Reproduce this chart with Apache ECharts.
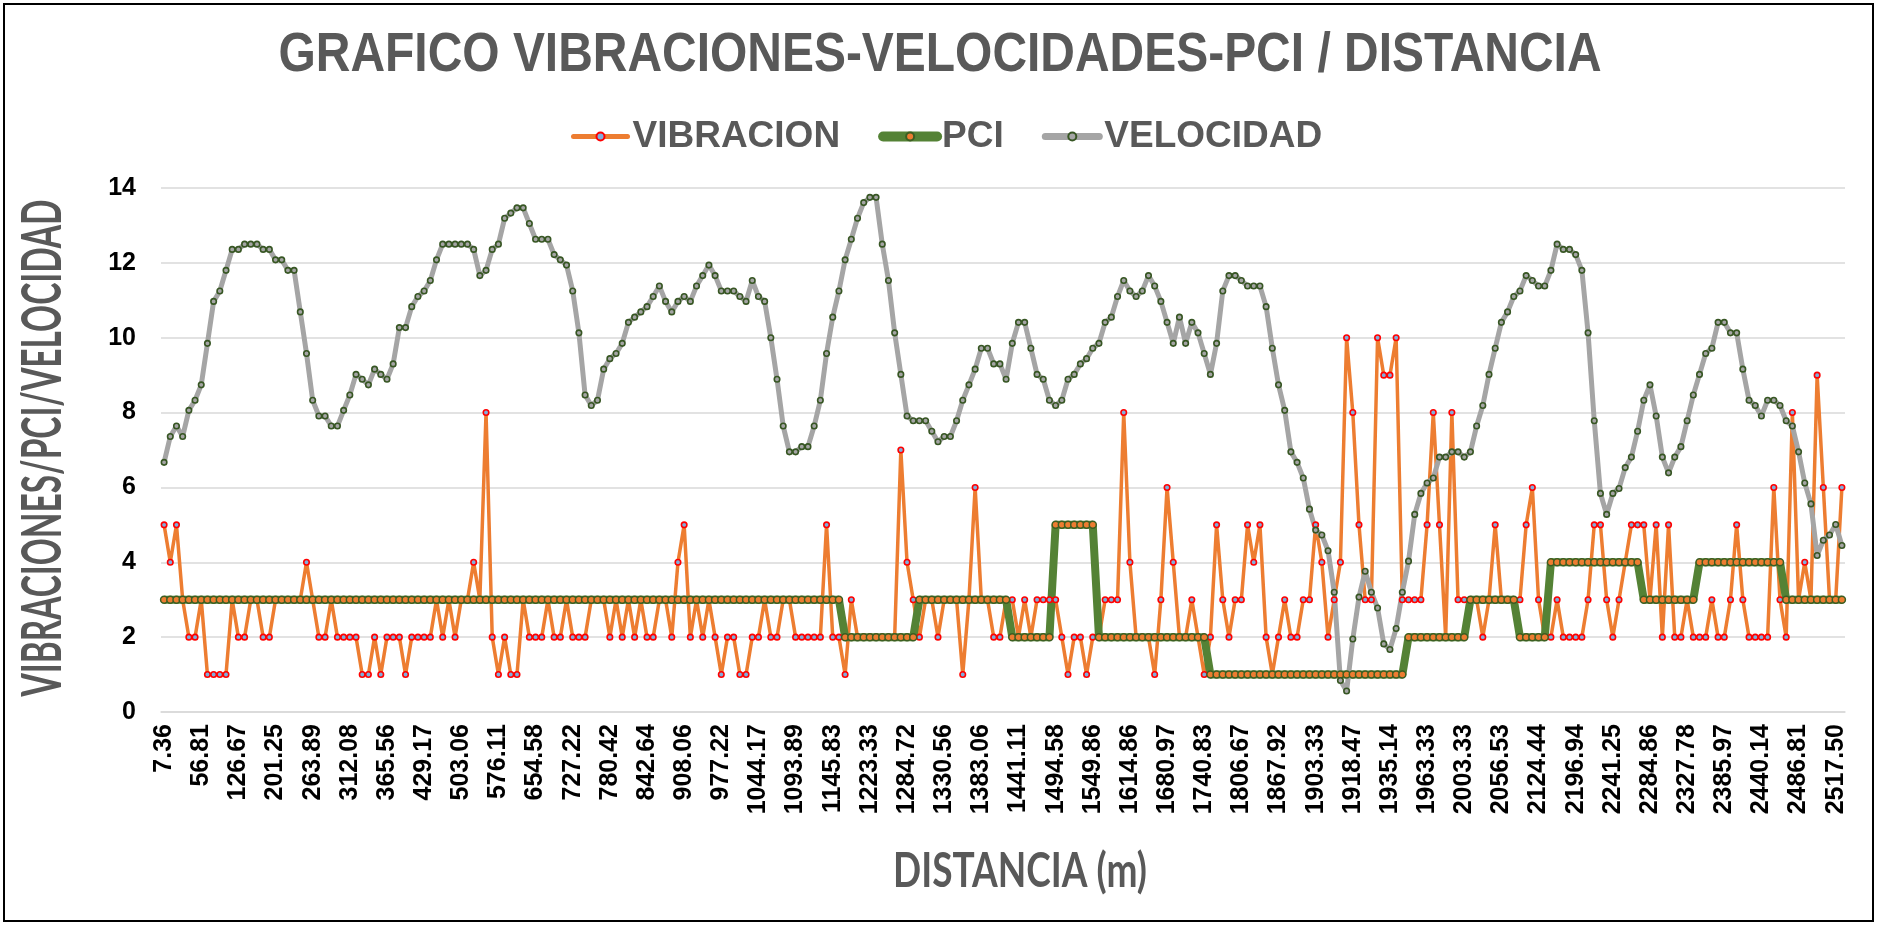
<!DOCTYPE html>
<html>
<head>
<meta charset="utf-8">
<script src="https://cdn.jsdelivr.net/npm/echarts@6/dist/echarts.min.js"></script>
<style>
  html, body { margin: 0; padding: 0; background: #ffffff; }
  #chart { width: 1878px; height: 925px; }
</style>
</head>
<body>
<div id="chart"></div>
<script>
// Distance tick labels (one every sixth reading along the road)
const tickLabels = ['7.36','56.81','126.67','201.25','263.89','312.08','365.56','429.17','503.06','576.11',
  '654.58','727.22','780.42','842.64','908.06','977.22','1044.17','1093.89','1145.83','1223.33',
  '1284.72','1330.56','1383.06','1441.11','1494.58','1549.86','1614.86','1680.97','1740.83','1806.67',
  '1867.92','1903.33','1918.47','1935.14','1963.33','2003.33','2056.53','2124.44','2196.94','2241.25',
  '2284.86','2327.78','2385.97','2440.14','2486.81','2517.50'];
const labelStep = 6;

// Measured vibration level per reading
const vibracion = [
  5,4,5,3,2,2,3,1,1,1, 1,3,2,2,3,3,2,2,3,3, 3,3,3,4,3,2,2,3,2,2, 2,2,1,1,2,1,2,2,2,1,
  2,2,2,2,3,2,3,2,3,3, 4,3,8,2,1,2,1,1,3,2, 2,2,3,2,2,3,2,2,2,3, 3,3,2,3,2,3,2,3,2,2,
  3,3,2,4,5,2,3,2,3,2, 1,2,2,1,1,2,2,3,2,2, 3,3,2,2,2,2,2,5,2,2, 1,3,2,2,2,2,2,2,2,7,
  4,3,2,3,3,2,3,3,3,1, 3,6,3,3,2,2,3,3,2,3, 2,3,3,3,3,2,1,2,2,1, 2,2,3,3,3,8,4,2,2,2,
  1,3,6,4,2,2,3,2,1,2, 5,3,2,3,3,5,4,5,2,1, 2,3,2,2,3,3,5,4,2,3, 4,10,8,5,3,3,10,9,9,10,
  3,3,3,3,5,8,5,2,8,3, 3,3,3,2,3,5,3,3,3,3, 5,6,3,2,2,3,2,2,2,2, 3,5,5,3,2,3,4,5,5,5,
  3,5,2,5,2,2,3,2,2,2, 3,2,2,3,5,3,2,2,2,2, 6,3,2,8,3,4,3,9,6,3, 3,6
];

// Pavement condition index per reading
const pci = [
  3,3,3,3,3,3,3,3,3,3, 3,3,3,3,3,3,3,3,3,3, 3,3,3,3,3,3,3,3,3,3, 3,3,3,3,3,3,3,3,3,3,
  3,3,3,3,3,3,3,3,3,3, 3,3,3,3,3,3,3,3,3,3, 3,3,3,3,3,3,3,3,3,3, 3,3,3,3,3,3,3,3,3,3,
  3,3,3,3,3,3,3,3,3,3, 3,3,3,3,3,3,3,3,3,3, 3,3,3,3,3,3,3,3,3,3, 2,2,2,2,2,2,2,2,2,2,
  2,2,3,3,3,3,3,3,3,3, 3,3,3,3,3,3,3,2,2,2, 2,2,2,2,5,5,5,5,5,5, 5,2,2,2,2,2,2,2,2,2,
  2,2,2,2,2,2,2,2,2,1, 1,1,1,1,1,1,1,1,1,1, 1,1,1,1,1,1,1,1,1,1, 1,1,1,1,1,1,1,1,1,1,
  1,2,2,2,2,2,2,2,2,2, 2,3,3,3,3,3,3,3,3,2, 2,2,2,2,4,4,4,4,4,4, 4,4,4,4,4,4,4,4,4,3,
  3,3,3,3,3,3,3,3,4,4, 4,4,4,4,4,4,4,4,4,4, 4,4,3,3,3,3,3,3,3,3, 3,3
];

// Travel speed per reading
const velocidad = [
  6.67,7.36,7.64,7.36,8.06,8.33,8.74,9.85,10.97,11.25,
  11.80,12.36,12.36,12.50,12.50,12.50,12.36,12.36,12.08,12.08,
  11.80,11.80,10.69,9.58,8.33,7.91,7.91,7.64,7.64,8.06,
  8.47,9.02,8.89,8.74,9.16,9.02,8.89,9.30,10.27,10.27,
  10.83,11.10,11.25,11.53,12.08,12.50,12.50,12.50,12.50,12.50,
  12.36,11.66,11.80,12.36,12.50,13.19,13.33,13.47,13.47,13.05,
  12.63,12.63,12.63,12.22,12.08,11.94,11.25,10.13,8.47,8.19,
  8.33,9.16,9.44,9.58,9.85,10.41,10.55,10.69,10.83,11.10,
  11.38,10.97,10.69,10.97,11.10,10.97,11.38,11.66,11.94,11.66,
  11.25,11.25,11.25,11.10,10.97,11.53,11.10,10.97,10.00,8.89,
  7.64,6.95,6.95,7.09,7.09,7.64,8.33,9.58,10.55,11.25,
  12.08,12.63,13.19,13.61,13.75,13.75,12.50,11.53,10.13,9.02,
  7.91,7.78,7.78,7.78,7.50,7.22,7.36,7.36,7.78,8.33,
  8.74,9.16,9.72,9.72,9.30,9.30,8.89,9.85,10.41,10.41,
  9.72,9.02,8.89,8.33,8.19,8.33,8.89,9.02,9.30,9.44,
  9.72,9.85,10.41,10.55,11.10,11.53,11.25,11.10,11.25,11.66,
  11.38,10.97,10.41,9.85,10.55,9.85,10.41,10.13,9.58,9.02,
  9.85,11.25,11.66,11.66,11.53,11.38,11.38,11.38,10.83,9.72,
  8.74,8.06,6.95,6.67,6.25,5.42,4.86,4.73,4.31,3.20,
  0.84,0.56,1.95,3.07,3.76,3.20,2.78,1.82,1.67,2.23,
  3.20,4.03,5.28,5.84,6.12,6.25,6.81,6.81,6.95,6.95,
  6.81,6.95,7.64,8.19,9.02,9.72,10.41,10.69,11.10,11.25,
  11.66,11.53,11.38,11.38,11.80,12.50,12.36,12.36,12.22,11.80,
  10.13,7.78,5.84,5.28,5.84,5.97,6.53,6.81,7.50,8.33,
  8.74,7.91,6.81,6.39,6.81,7.09,7.78,8.47,9.02,9.58,
  9.72,10.41,10.41,10.13,10.13,9.16,8.33,8.19,7.91,8.33,
  8.33,8.19,7.78,7.64,6.95,6.12,5.56,4.18,4.59,4.73,
  5.01,4.45
];

const seriesNames = ['VIBRACION', 'PCI', 'VELOCIDAD'];
const titleText = 'GRAFICO VIBRACIONES-VELOCIDADES-PCI / DISTANCIA';
const xTitle = 'DISTANCIA (m)';
const yTitle = 'VIBRACIONES/PCI/VELOCIDAD';

// Series styling
const lineColors = ['#ED7D31', '#548235', '#A5A5A5'];
const lineWidths = [3.5, 8, 5];
const legendLineWidths = [5, 10, 7];

// One category per reading; only every sixth one carries a distance label
const categories = vibracion.map((_, i) => (i % labelStep === 0 ? (tickLabels[i / labelStep] || '') : ''));

// Narrow headings: scale the text so it spans the wanted width
function textWidth(text, font) {
  const ctx = document.createElement('canvas').getContext('2d');
  ctx.font = font;
  return ctx.measureText(text).width;
}
const ARIAL = '"Liberation Sans", Arial, sans-serif';
const TITLE_FONT = 'bold 55px ' + ARIAL;
const AXIS_TITLE_FONT_X = 'bold 48px Lato, "Open Sans", sans-serif';
const AXIS_TITLE_FONT_Y = 'bold 56px Lato, "Open Sans", sans-serif';
const titleScale = 1323 / textWidth(titleText, TITLE_FONT);
const xTitleScale = 254 / textWidth(xTitle, AXIS_TITLE_FONT_X);
const yTitleScale = 497 / textWidth(yTitle, AXIS_TITLE_FONT_Y);

const chart = echarts.init(document.getElementById('chart'), null, { renderer: 'canvas' });

chart.setOption({
  animation: false,
  backgroundColor: '#ffffff',
  graphic: [
    {
      type: 'rect', silent: true, z: 0,
      shape: { x: 4, y: 4, width: 1869, height: 917 },
      style: { fill: 'rgba(0,0,0,0)', stroke: '#000000', lineWidth: 2 }
    },
    {
      type: 'text', x: 940, y: 56, scaleX: titleScale,
      style: { text: titleText, font: TITLE_FONT, fill: '#595959',
               textAlign: 'center', textVerticalAlign: 'middle', align: 'center', verticalAlign: 'middle' }
    },
    {
      type: 'text', x: 1020, y: 872, scaleX: xTitleScale,
      style: { text: xTitle, font: AXIS_TITLE_FONT_X, fill: '#595959',
               textAlign: 'center', textVerticalAlign: 'middle', align: 'center', verticalAlign: 'middle' }
    },
    {
      type: 'text', x: 43, y: 448, rotation: Math.PI / 2, scaleX: yTitleScale,
      style: { text: yTitle, font: AXIS_TITLE_FONT_Y, fill: '#595959',
               textAlign: 'center', textVerticalAlign: 'middle', align: 'center', verticalAlign: 'middle' }
    }
  ],
  legend: {
    data: seriesNames.map((name, k) => ({
      name: name,
      lineStyle: { width: legendLineWidths[k], color: lineColors[k], cap: 'round' }
    })),
    left: 566,
    top: 113,
    itemWidth: 54,
    itemHeight: 10,
    itemGap: 38,
    textStyle: { fontSize: 37, fontWeight: 'bold', color: '#595959', fontFamily: ARIAL }
  },
  grid: { left: 161, right: 33, top: 188, bottom: 213, containLabel: false, outerBoundsMode: 'none' },
  xAxis: {
    type: 'category',
    data: categories,
    boundaryGap: true,
    axisTick: { show: false },
    axisLine: { lineStyle: { color: '#D9D9D9', width: 1.5 } },
    axisLabel: {
      interval: labelStep - 1, rotate: 90, margin: 12,
      fontSize: 25, fontWeight: 'bold', color: '#000000', fontFamily: ARIAL
    }
  },
  yAxis: {
    type: 'value',
    min: 0, max: 14, interval: 2,
    axisLine: { show: false },
    axisTick: { show: false },
    axisLabel: { margin: 25, fontSize: 25, fontWeight: 'bold', color: '#000000', fontFamily: ARIAL },
    splitLine: { lineStyle: { color: '#D9D9D9', width: 1.5 } }
  },
  series: [
    {
      name: seriesNames[0], type: 'line', data: vibracion,
      symbol: 'circle', symbolSize: 5.5, showAllSymbol: true,
      lineStyle: { color: lineColors[0], width: lineWidths[0] },
      itemStyle: { color: '#7FAEDD', borderColor: '#FF0000', borderWidth: 1.6 }
    },
    {
      name: seriesNames[1], type: 'line', data: pci,
      symbol: 'circle', symbolSize: 7, showAllSymbol: true,
      lineStyle: { color: lineColors[1], width: lineWidths[1] },
      itemStyle: { color: '#ED7D31', borderColor: '#3B5E22', borderWidth: 1.5 }
    },
    {
      name: seriesNames[2], type: 'line', data: velocidad,
      symbol: 'circle', symbolSize: 5.5, showAllSymbol: true,
      lineStyle: { color: lineColors[2], width: lineWidths[2] },
      itemStyle: { color: '#A5A5A5', borderColor: '#375623', borderWidth: 1.6 }
    }
  ]
});
</script>
</body>
</html>
